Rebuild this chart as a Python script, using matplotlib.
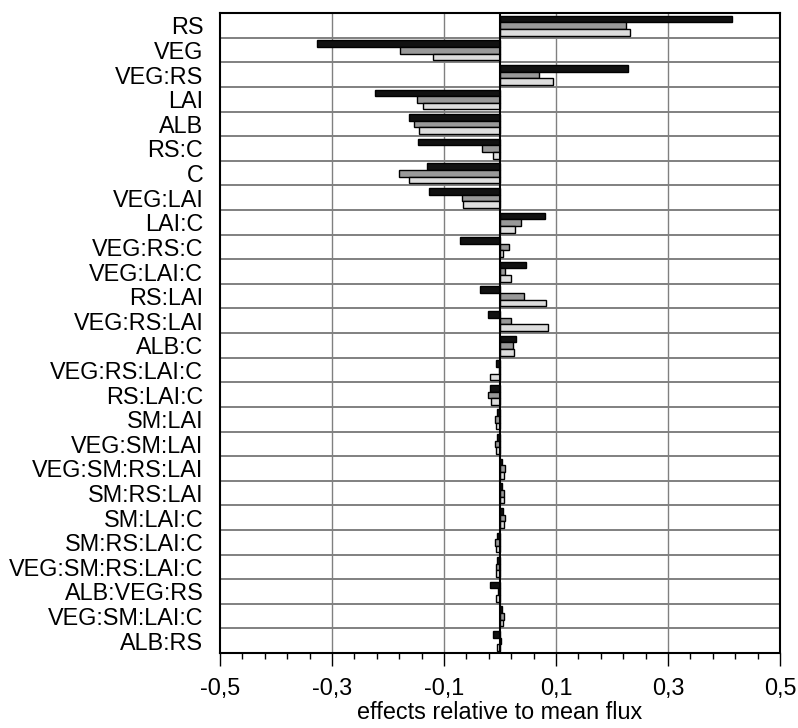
import numpy as np
import matplotlib.pyplot as plt

plt.rcParams['font.family'] = ['Liberation Sans', 'DejaVu Sans']

# factors, top to bottom
factors = ['RS', 'VEG', 'VEG:RS', 'LAI', 'ALB', 'RS:C', 'C', 'VEG:LAI', 'LAI:C',
           'VEG:RS:C', 'VEG:LAI:C', 'RS:LAI', 'VEG:RS:LAI', 'ALB:C', 'VEG:RS:LAI:C',
           'RS:LAI:C', 'SM:LAI', 'VEG:SM:LAI', 'VEG:SM:RS:LAI', 'SM:RS:LAI', 'SM:LAI:C',
           'SM:RS:LAI:C', 'VEG:SM:RS:LAI:C', 'ALB:VEG:RS', 'VEG:SM:LAI:C', 'ALB:RS']

# effects relative to mean flux, three series
black = [0.415, -0.326, 0.229, -0.224, -0.162, -0.147, -0.131, -0.126, 0.081,
         -0.071, 0.046, -0.035, -0.022, 0.028, -0.007, -0.018, -0.006, -0.006,
         0.004, 0.004, 0.006, -0.006, -0.005, -0.018, 0.003, -0.012]
dark = [0.225, -0.178, 0.069, -0.148, -0.154, -0.033, -0.180, -0.068, 0.037,
        0.016, 0.009, 0.043, 0.020, 0.023, -0.002, -0.021, -0.009, -0.009,
        0.009, 0.008, 0.009, -0.009, -0.008, -0.004, 0.007, 0.001]
light = [0.232, -0.120, 0.095, -0.138, -0.145, -0.012, -0.162, -0.066, 0.027,
         0.006, 0.019, 0.083, 0.085, 0.025, -0.018, -0.016, -0.008, -0.008,
         0.007, 0.007, 0.008, -0.008, -0.008, -0.008, 0.006, -0.006]

xticks = [-0.5, -0.3, -0.1, 0.1, 0.3, 0.5]
xticklabels = ['-0,5', '-0,3', '-0,1', '0,1', '0,3', '0,5']

y = np.arange(len(factors))

fig = plt.figure(figsize=(7.98, 7.28), dpi=100)
ax = fig.add_axes([0.2757, 0.103, 0.7017, 0.879])

h = 0.27
ax.barh(y - 0.26, black, height=h, color='#111111', edgecolor='black', linewidth=1, zorder=3)
ax.barh(y + 0.01, dark, height=h, color='#999999', edgecolor='black', linewidth=1, zorder=3)
ax.barh(y + 0.28, light, height=h, color='#dddddd', edgecolor='black', linewidth=1, zorder=3)

ax.set_xlim(-0.5, 0.5)
ax.set_ylim(len(factors) - 0.5, -0.5)

# grid
for b in np.arange(0.5, len(factors) - 0.5):
    ax.axhline(b, color='#808080', linewidth=1.4, zorder=1)
for gx in [-0.3, -0.1, 0.1, 0.3]:
    ax.axvline(gx, color='#808080', linewidth=1.0, zorder=1)
ax.axvline(0, color='black', linewidth=1.5, zorder=4)

ax.set_yticks(y)
ax.set_yticklabels(factors, fontsize=16.8)
ax.tick_params(axis='y', length=0, pad=12)

ax.set_xticks(xticks)
ax.set_xticklabels(xticklabels, fontsize=16.8)
ax.set_xticks(np.linspace(-0.5, 0.5, 26), minor=True)
ax.tick_params(axis='x', which='major', direction='out', length=9, width=1, pad=8)
ax.tick_params(axis='x', which='minor', direction='out', length=4, width=1)
ax.set_xlabel('effects relative to mean flux', fontsize=16.8, labelpad=1)

for s in ax.spines.values():
    s.set_linewidth(1.5)
    s.set_zorder(5)

fig.savefig('out.png', dpi=100)
